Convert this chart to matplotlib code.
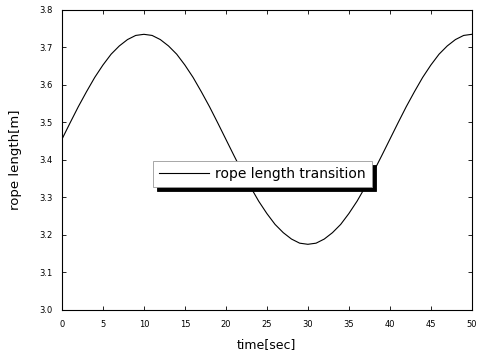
import numpy as np
import matplotlib.pyplot as plt

# rope length over time, sampled once per second
time_sec = list(range(0, 51))
rope_length = [
    3.455, 3.499, 3.542, 3.582, 3.620, 3.653, 3.682, 3.704, 3.721, 3.732,
    3.735, 3.732, 3.721, 3.704, 3.682, 3.653, 3.620, 3.582, 3.542, 3.499,
    3.455, 3.411, 3.368, 3.328, 3.290, 3.257, 3.228, 3.206, 3.189, 3.178,
    3.175, 3.178, 3.189, 3.206, 3.228, 3.257, 3.290, 3.328, 3.368, 3.411,
    3.455, 3.499, 3.542, 3.582, 3.620, 3.653, 3.682, 3.704, 3.721, 3.732,
    3.735,
]
x_ticks = [0, 5, 10, 15, 20, 25, 30, 35, 40, 45, 50]
y_ticks = [3.0, 3.1, 3.2, 3.3, 3.4, 3.5, 3.6, 3.7, 3.8]

fig = plt.figure(figsize=(4.8, 3.55), dpi=100)
ax = fig.add_axes([0.129, 0.127, 0.854, 0.845])

ax.plot(time_sec, rope_length, color="black", lw=0.8, label="rope length transition")

ax.set_xlim(0, 50)
ax.set_ylim(3.0, 3.8)
ax.set_xticks(x_ticks)
ax.set_yticks(y_ticks)
ax.set_yticklabels([f"{v:.1f}" for v in y_ticks])
ax.tick_params(direction="in", top=True, right=True, labelsize=6, length=3, width=0.6)
ax.tick_params(axis="y", pad=7)
ax.tick_params(axis="x", pad=7)
for s in ax.spines.values():
    s.set_linewidth(0.8)

ax.set_xlabel("time[sec]", fontsize=9, labelpad=7)
ax.set_ylabel("rope length[m]", fontsize=9.5, labelpad=12)

leg = ax.legend(
    loc="center",
    bbox_to_anchor=(0.489, 0.453),
    fontsize=10,
    fancybox=False,
    shadow={"color": "black", "ox": 3, "oy": -3, "alpha": 1},
    framealpha=1,
    handlelength=3.6,
    handletextpad=0.4,
    borderpad=0.45,
    borderaxespad=0,
)
leg.get_frame().set_edgecolor("0.6")
leg.get_frame().set_linewidth(0.6)

fig.savefig("out.png", dpi=100)
